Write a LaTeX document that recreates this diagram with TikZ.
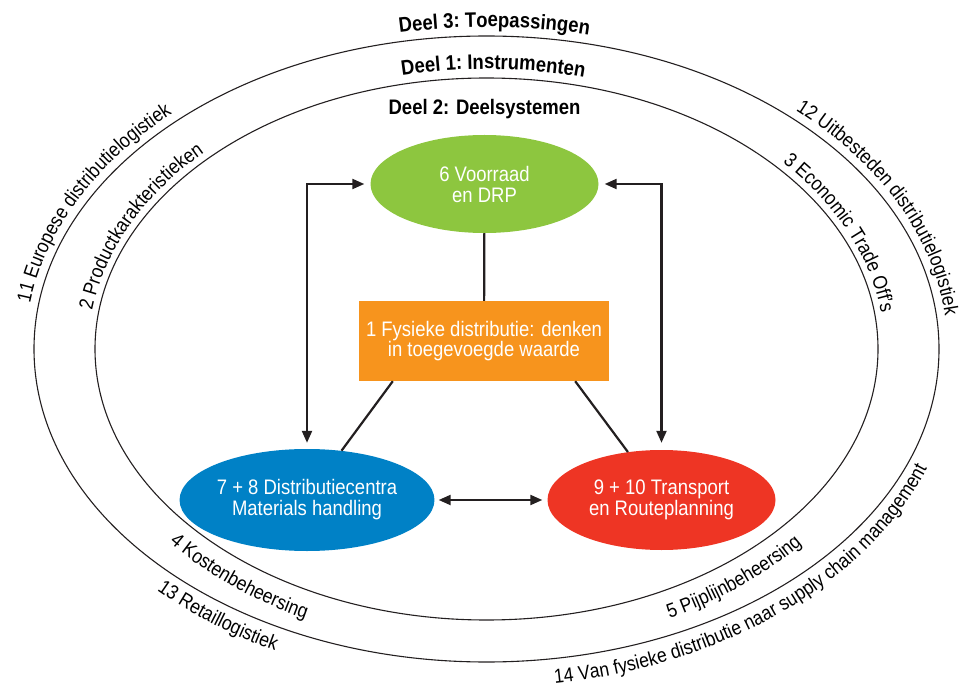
\documentclass[tikz,border=0pt]{standalone}
\usepackage{fontspec}
\setmainfont[FakeStretch=0.88]{Liberation Sans}
\usepackage{tikz}
\usetikzlibrary{arrows.meta,decorations.text,shapes.geometric}

\definecolor{lijn}{HTML}{231F20}
\definecolor{groen}{HTML}{8DC63F}
\definecolor{oranje}{HTML}{F7941D}
\definecolor{blauw}{HTML}{0081C6}
\definecolor{rood}{HTML}{EE3524}

\newcommand{\ringfont}{\fontsize{20}{24}\selectfont}
\newcommand{\deelfont}{\bfseries\fontsize{21}{24}\selectfont}

\begin{document}
\begin{tikzpicture}[x=1pt, y=1pt,
	deel/.style={ellipse, fill=#1, text=white, minimum width=228pt, minimum height=100pt, inner sep=0pt, align=center, font=\fontsize{21}{21}\selectfont},
	blok/.style={rectangle, fill=oranje, text=white, minimum width=250pt, minimum height=80pt, inner sep=0pt, align=center, font=\fontsize{21}{20}\selectfont},
	verbinding/.style={draw=lijn, line width=2.2pt},
	pijl/.style={verbinding, {Triangle[length=12pt,width=10pt]}-{Triangle[length=12pt,width=10pt]}},
	ring/.style={draw=lijn, line width=1.1pt},
	ringtekst/.style={decorate, decoration={text along path, text align=center, text={|\ringfont|#1}}},
	deeltitel/.style={decorate, decoration={text along path, text align=center, text={|\deelfont|#1}}}]
	\useasboundingbox (0,0) rectangle (966,689);
	\coordinate (C) at (486.5,340);
	
	% ringen
	\draw[ring] (C) ellipse[x radius=452.5, y radius=313];
	\draw[ring] (C) ellipse[x radius=391.5, y radius=271];
	
	% deelsystemen
	\node[deel=groen, minimum height=98pt](voorraad) at (484.5,505){6 Voorraad\\en DRP};
	\node[blok](fysiek) at (484,348){1 Fysieke distributie: denken\\in toegevoegde waarde};
	\node[deel=blauw, minimum height=102pt](dc) at (307,189){7 + 8 Distributiecentra\\Materials handling};
	\node[deel=rood](transport) at (661.5,189){9 + 10 Transport\\en Routeplanning};
	\node[font=\deelfont, anchor=base](deel2) at (484.5,574){Deel 2: Deelsystemen};
	
	\draw[verbinding] (voorraad) -- (fysiek);
	\draw[verbinding] ([xshift=34pt]fysiek.south west) -- (dc.55);
	\draw[verbinding] ([xshift=-34pt]fysiek.south east) -- (transport.125);
	\draw[pijl, shorten <=6pt, shorten >=6pt] (voorraad.west) -| (dc.north);
	\draw[pijl, shorten <=6pt, shorten >=7pt] (voorraad.east) -| (transport.north);
	\draw[pijl, shorten <=4pt, shorten >=5pt] (dc.east) -- (transport.west);
	
	% deel 1 en deel 3, boven
	\path[deeltitel={Deel 3: Toepassingen}] ([shift={(C)}]109:461 and 322) arc[start angle=109, end angle=69, x radius=461, y radius=322];
	\path[deeltitel={Deel 1: Instrumenten}] ([shift={(C)}]111:398 and 280) arc[start angle=111, end angle=67, x radius=398, y radius=280];
	
	% instrumenten (middelste ring)
	\path[ringtekst={2 Productkarakteristieken}] ([shift={(C)}]185:398 and 279) arc[start angle=185, end angle=125, x radius=398, y radius=279];
	\path[ringtekst={3 Economic Trade Off's}] ([shift={(C)}]51.5:398 and 279) arc[start angle=51.5, end angle=-4.5, x radius=398, y radius=279];
	\path[ringtekst={4 Kostenbeheersing}] ([shift={(C)}]206:415 and 300) arc[start angle=206, end angle=256, x radius=415, y radius=300];
	\path[ringtekst={5 Pijplijnbeheersing}] ([shift={(C)}]284:415 and 300) arc[start angle=284, end angle=334, x radius=415, y radius=300];
	
	% toepassingen (buitenring)
	\path[ringtekst={11 Europese distributielogistiek}] ([shift={(C)}]186:461 and 322) arc[start angle=186, end angle=122, x radius=461, y radius=322];
	\path[ringtekst={12 Uitbesteden distributielogistiek}] ([shift={(C)}]61:461 and 322) arc[start angle=61, end angle=-11, x radius=461, y radius=322];
	\path[ringtekst={13 Retaillogistiek}] ([shift={(C)}]211.5:471 and 338) arc[start angle=211.5, end angle=255.5, x radius=471, y radius=338];
	\path[ringtekst={14 Van fysieke distributie naar supply chain management}] ([shift={(C)}]266:471 and 338) arc[start angle=266, end angle=356, x radius=471, y radius=338];
\end{tikzpicture}
\end{document}
